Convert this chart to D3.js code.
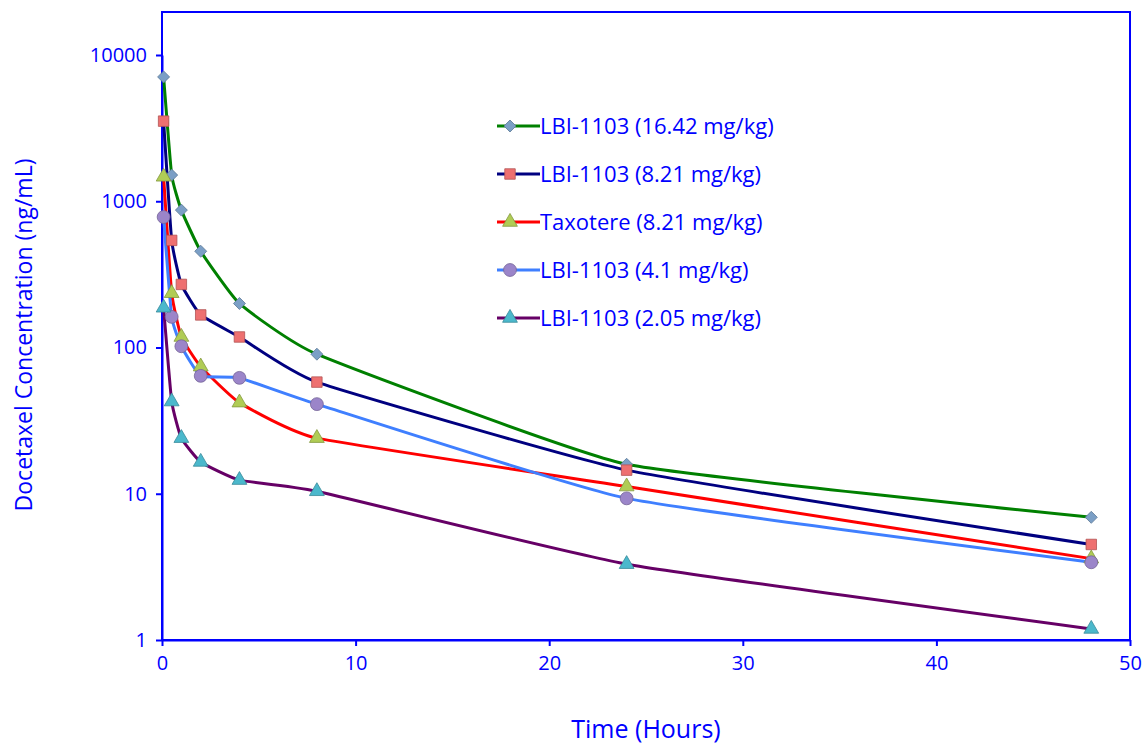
<!DOCTYPE html>
<html><head><meta charset="utf-8">
<script src="https://cdn.jsdelivr.net/npm/d3@7"></script>
<style>body{margin:0;background:#fff}text{font-family:"Open Sans",Calibri,sans-serif;fill:#0000ff}</style>
</head><body>
<script>
var times = [0.083, 0.5, 1, 2, 4, 8, 24, 48];
var seriesNames = ["LBI-1103 (16.42 mg/kg)", "LBI-1103 (8.21 mg/kg)", "Taxotere (8.21 mg/kg)", "LBI-1103 (4.1 mg/kg)", "LBI-1103 (2.05 mg/kg)"];
var lbi1642 = [7080, 1510, 870, 455, 200, 90, 15.9, 6.9];
var lbi821 = [3530, 540, 270, 167, 118, 58, 14.5, 4.5];
var taxotere = [1470, 235, 118, 74, 42, 24, 11.2, 3.6];
var lbi41 = [780, 162, 102, 64, 62, 41, 9.3, 3.4];
var lbi205 = [187, 42.7, 24, 16.5, 12.4, 10.4, 3.3, 1.19];
var lineColors = ["#008000", "#000080", "#ff0000", "#3f7fff", "#660066"];
var markerFill = ["#7b9fc6", "#ee7070", "#b0cc55", "#9b85c9", "#4bb8cc"];
var markerType = ["diamond", d3.symbolSquare, d3.symbolTriangle, d3.symbolCircle, d3.symbolTriangle];
var markerSize = [45, 110, 95, 130, 95];
var allSeries = [lbi1642, lbi821, taxotere, lbi41, lbi205];
var xTicks = [0, 10, 20, 30, 40, 50];
var yTicks = [1, 10, 100, 1000, 10000];

function markPath(k) {
  if (markerType[k] === "diamond") return "M0,-6L6,0L0,6L-6,0Z";
  return d3.symbol().type(markerType[k]).size(markerSize[k])();
}

var svg = d3.select("body").append("svg").attr("width", 1146).attr("height", 746);
var x = d3.scaleLinear().domain([0, 50]).range([162, 1130]);
var y = d3.scaleLog().domain([1, 10000]).range([640, 55]);

svg.append("rect").attr("x", 162).attr("y", 12).attr("width", 968).attr("height", 628)
  .attr("fill", "none").attr("stroke", "#0000ff").attr("stroke-width", 2);

var xa = svg.append("g").attr("transform", "translate(0,640)")
  .call(d3.axisBottom(x).tickValues(xTicks).tickSize(6).tickSizeOuter(0));
var ya = svg.append("g").attr("transform", "translate(162,0)")
  .call(d3.axisLeft(y).tickValues(yTicks).tickFormat(d3.format("d")).tickSize(6).tickSizeOuter(0));
[xa, ya].forEach(function(a) {
  a.selectAll("path,line").attr("stroke", "#0000ff").attr("stroke-width", 2);
  a.selectAll("text").style("font-size", "20px").style("fill", "#0000ff");
});
xa.selectAll("text").attr("dy", "1.05em");
ya.selectAll("text").attr("dx", "-0.3em");

svg.append("text").attr("x", 646).attr("y", 738).attr("text-anchor", "middle").style("font-size", "25px").text("Time (Hours)");
svg.append("text").attr("transform", "translate(32,335) rotate(-90)").attr("text-anchor", "middle").style("font-size", "23px").text("Docetaxel Concentration (ng/mL)");

var line = d3.line().x(function(d, i) { return x(times[i]); }).y(function(d) { return y(d); }).curve(d3.curveCardinal.tension(0.6));

allSeries.forEach(function(s, k) {
  svg.append("path").attr("d", line(s)).attr("fill", "none").attr("stroke", lineColors[k]).attr("stroke-width", 3);
});
allSeries.forEach(function(s, k) {
  svg.selectAll(null).data(s).enter().append("path")
    .attr("d", markPath(k))
    .attr("transform", function(d, i) { return "translate(" + x(times[i]) + "," + y(d) + ")"; })
    .attr("fill", markerFill[k]).attr("stroke", d3.color(markerFill[k]).darker(0.8)).attr("stroke-width", 0.8);
});

var lg = svg.append("g");
seriesNames.forEach(function(n, k) {
  var ly = 126 + k * 48;
  lg.append("line").attr("x1", 497).attr("x2", 540).attr("y1", ly).attr("y2", ly).attr("stroke", lineColors[k]).attr("stroke-width", 3);
  lg.append("path").attr("d", markPath(k))
    .attr("transform", "translate(510," + ly + ")").attr("fill", markerFill[k]).attr("stroke", d3.color(markerFill[k]).darker(0.8)).attr("stroke-width", 0.8);
  lg.append("text").attr("x", 540).attr("y", ly + 8).style("font-size", "22px").text(n);
});
</script>
</body></html>
